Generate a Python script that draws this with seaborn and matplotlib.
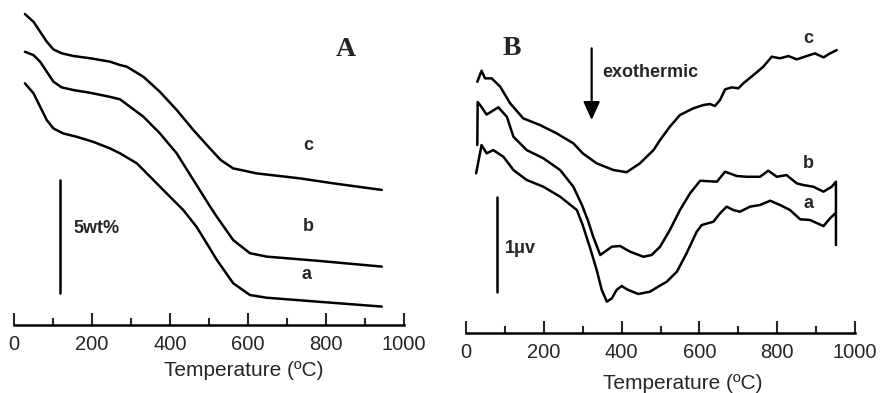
import matplotlib
matplotlib.use("Agg")
import matplotlib.pyplot as plt
import pandas as pd
import seaborn as sns

# TG curves (wt%, each starts at 100)
tg_temp_c = [28, 50, 67, 84, 101, 122, 152, 195, 246, 272, 289, 332, 374, 417, 460, 502, 530, 562, 590, 622,
             733, 819, 943]
tg_c = [100.00, 99.66, 99.22, 98.78, 98.44, 98.27, 98.15, 98.05, 97.90, 97.75, 97.68, 97.23, 96.57, 95.77,
        94.88, 94.08, 93.56, 93.19, 93.09, 92.97, 92.75, 92.53, 92.24]
tg_temp_b = [28, 50, 67, 84, 101, 122, 152, 195, 246, 272, 332, 374, 417, 460, 502, 520, 562, 605, 648, 776,
             943]
tg_b = [100.00, 99.85, 99.56, 99.12, 98.68, 98.43, 98.31, 98.19, 98.01, 97.90, 97.13, 96.40, 95.52, 94.34,
        93.19, 92.72, 91.69, 91.11, 90.96, 90.78, 90.52]
tg_temp_a = [28, 50, 67, 84, 101, 126, 161, 203, 246, 272, 315, 349, 391, 434, 468, 502, 520, 562, 605, 648,
             776, 943]
tg_a = [100.00, 99.56, 98.97, 98.38, 98.01, 97.79, 97.64, 97.42, 97.13, 96.91, 96.47, 95.88, 95.15, 94.41,
        93.67, 92.72, 92.21, 91.18, 90.66, 90.54, 90.37, 90.15]

# DTA curves (uV, stacked as in the figure)
dta_temp_c = [29, 40, 49, 66, 88, 113, 147, 190, 233, 276, 300, 336, 379, 413, 447, 482, 499, 524, 550, 584,
              610, 627, 640, 653, 666, 683, 700, 713, 739, 764, 786, 807, 829, 850, 876, 897, 919, 936, 953]
dta_c = [2.648, 2.764, 2.684, 2.684, 2.596, 2.424, 2.263, 2.193, 2.105, 2.000, 1.895, 1.789, 1.719, 1.696,
         1.789, 1.929, 2.035, 2.175, 2.298, 2.368, 2.403, 2.414, 2.393, 2.456, 2.568, 2.589, 2.579, 2.632,
         2.719, 2.806, 2.912, 2.895, 2.919, 2.884, 2.919, 2.947, 2.905, 2.947, 2.982]
dta_temp_b = [29, 30, 38, 53, 83, 105, 122, 156, 199, 242, 276, 298, 313, 327, 345, 357, 375, 396, 422, 456,
              477, 499, 524, 550, 576, 602, 645, 666, 696, 722, 756, 777, 799, 824, 850, 867, 893, 919, 940,
              951, 951]
dta_b = [1.982, 2.435, 2.393, 2.303, 2.379, 2.280, 2.069, 1.929, 1.842, 1.719, 1.543, 1.351, 1.193, 1.017,
         0.824, 0.859, 0.912, 0.919, 0.859, 0.806, 0.824, 0.912, 1.087, 1.298, 1.474, 1.606, 1.596, 1.701,
         1.656, 1.648, 1.648, 1.712, 1.648, 1.666, 1.579, 1.561, 1.543, 1.491, 1.543, 1.596, 0.929]
dta_temp_a = [26, 40, 53, 70, 96, 122, 156, 199, 242, 285, 300, 319, 336, 349, 362, 375, 387, 400, 417, 443,
              473, 494, 516, 542, 567, 593, 606, 636, 653, 670, 687, 704, 730, 756, 782, 807, 833, 859, 884,
              919, 936, 951]
dta_a = [1.684, 1.982, 1.895, 1.929, 1.859, 1.719, 1.614, 1.543, 1.438, 1.298, 1.140, 0.898, 0.666, 0.456,
         0.333, 0.368, 0.456, 0.498, 0.456, 0.414, 0.438, 0.491, 0.543, 0.648, 0.842, 1.069, 1.140, 1.175,
         1.263, 1.333, 1.298, 1.280, 1.333, 1.351, 1.396, 1.351, 1.298, 1.200, 1.193, 1.129, 1.211, 1.269]

sample_labels = ["a", "b", "c"]
tick_labels = ["0", "200", "400", "600", "800", "1000"]

sns.set_style("white")
plt.rcParams["font.family"] = ["Liberation Sans", "DejaVu Sans"]

# vertical stacking of the TG curves (wt%)
tg_offsets = {"c": 0.0, "b": -1.663, "a": -3.057}

tg_df = pd.concat([
    pd.DataFrame({"T": t, "y": [v + tg_offsets[s] for v in w], "sample": s})
    for s, t, w in [("a", tg_temp_a, tg_a), ("b", tg_temp_b, tg_b), ("c", tg_temp_c, tg_c)]
])
dta_df = pd.concat([
    pd.DataFrame({"T": t, "y": v, "sample": s})
    for s, t, v in [("a", dta_temp_a, dta_a), ("b", dta_temp_b, dta_b), ("c", dta_temp_c, dta_c)]
])

fig = plt.figure(figsize=(8.84, 3.93), dpi=100)
ax_a = fig.add_axes([0.01584, 0.17303, 0.44118, 0.82697])
ax_b = fig.add_axes([0.52715, 0.15191, 0.44005, 0.84809])

black = {s: "black" for s in sample_labels}
for ax, df in [(ax_a, tg_df), (ax_b, dta_df)]:
    sns.lineplot(data=df, x="T", y="y", hue="sample", palette=black, estimator=None,
                 sort=False, legend=False, lw=1.8, ax=ax,
                 solid_joinstyle="round", solid_capstyle="round")
    ax.set_xlim(0, 1000)
    ax.set_xticks(range(0, 1001, 200))
    ax.set_xticklabels(tick_labels)
    ax.set_xticks(range(100, 1000, 200), minor=True)
    ax.tick_params(axis="x", which="major", direction="in", length=9, width=1.5,
                   labelsize=14.5, pad=7, bottom=True)
    ax.tick_params(axis="x", which="minor", direction="in", length=5, width=1.5, bottom=True)
    ax.set_yticks([])
    ax.set_ylabel("")
    for side in ["left", "top", "right"]:
        ax.spines[side].set_visible(False)
    ax.spines["bottom"].set_linewidth(1.8)
    ax.spines["bottom"].set_color("black")
    ax.set_xlabel("Temperature (ºC)", fontsize=15)
    ax.xaxis.label.set_va("center")

ax_a.set_ylim(86.28, 100.62)
ax_b.set_ylim(0, 3.509)
ax_a.xaxis.set_label_coords(0.59, -0.1415)
ax_b.xaxis.set_label_coords(0.557, -0.15)

# panel A annotations
ax_a.plot([118, 118], [87.68, 92.68], color="black", lw=1.8)
ax_a.text(152, 90.52, "5wt%", fontsize=13, fontweight="bold", va="center", ha="left")
ax_a.text(755, 94.22, "c", fontsize=13, fontweight="bold", va="center", ha="center")
ax_a.text(755, 90.62, "b", fontsize=13, fontweight="bold", va="center", ha="center")
ax_a.text(751, 88.49, "a", fontsize=13, fontweight="bold", va="center", ha="center")
ax_a.text(851, 98.45, "A", fontsize=20, fontweight="bold", family="Liberation Serif",
          va="center", ha="center")

# panel B annotations
ax_b.plot([80.5, 80.5], [0.438, 1.438], color="black", lw=1.8)
ax_b.text(100, 0.895, "1\u03bcv", fontsize=13, fontweight="bold", va="center", ha="left")
ax_b.annotate("", xy=(323, 2.245), xytext=(323, 3.0),
              arrowprops=dict(arrowstyle="-|>,head_width=0.25,head_length=0.55",
                              color="black", lw=1.6, mutation_scale=20, shrinkA=0, shrinkB=0))
ax_b.text(349, 2.743, "exothermic", fontsize=13, fontweight="bold", va="center", ha="left")
ax_b.text(880, 3.105, "c", fontsize=13, fontweight="bold", va="center", ha="center")
ax_b.text(880, 1.789, "b", fontsize=13, fontweight="bold", va="center", ha="center")
ax_b.text(880, 1.368, "a", fontsize=13, fontweight="bold", va="center", ha="center")
ax_b.text(117.5, 3.0, "B", fontsize=20, fontweight="bold", family="Liberation Serif",
          va="center", ha="center")

fig.savefig("out.png", dpi=100)
